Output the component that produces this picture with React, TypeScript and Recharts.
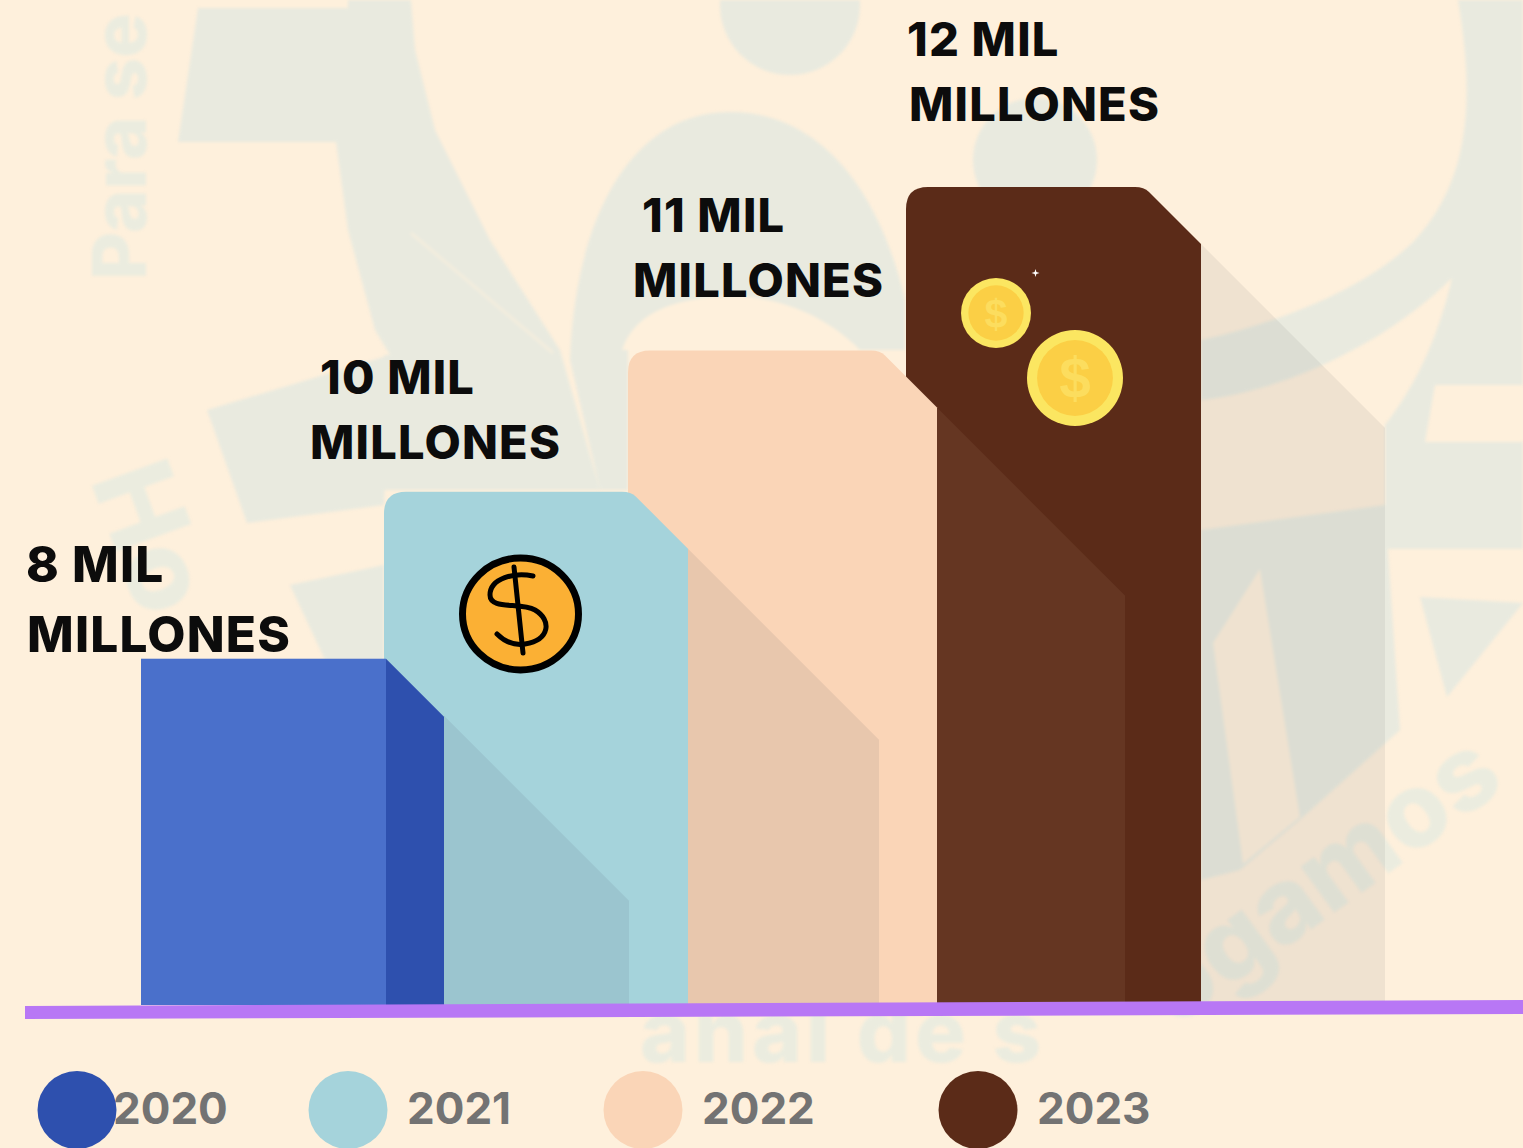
import { Bar, BarChart, LabelList, Legend, XAxis, YAxis } from 'recharts'

// years shown in the legend
const years = ['2020', '2021', '2022', '2023']
// the printed figures, in "mil millones"
const printedValues = [8, 10, 11, 12]
// the picture's bars are not to scale with the printed figures, so heights are read separately
const drawnHeights = [5.08, 7.53, 9.6, 12]

const data = years.map((year, i) => ({ year, height: drawnHeights[i], printed: printedValues[i] })).reverse()

const WIDTH = 1523
const HEIGHT = 1148
const FONT = 'Inter, sans-serif'

const frontColors = ['#4a70cb', '#a5d3db', '#fad5b7', '#5b2b18']
const legendColors = ['#2e50ae', '#a5d3db', '#fad5b7', '#5b2b18']
const shadowColors = ['#9bc5cf', '#e8c7ad', '#653622', 'rgba(120,120,120,0.11)']
const xNudge = [0, -1, -1, 33]
const bodyWidths = [303, 304, 309, 295]
const shadowWidths = [185, 191, 188, 184]
const cornerRadius = [0, 22, 22, 22]
const FOLD = 57

const labelPos = [
  { dx1: -115, dx2: -114, dy1: -77, dy2: -7, size: 49.5, gap: 1.2 },
  { dx1: -64, dx2: -74, dy1: -98, dy2: -33, size: 47, gap: 1.2 },
  { dx1: 14, dx2: 5, dy1: -119, dy2: -54, size: 47, gap: 1.2 },
  { dx1: 1, dx2: 3, dy1: -131, dy2: -66, size: 47, gap: 1.2 },
]
const legendPos = [
  { cx: 77, tx: 113 },
  { cx: 348, tx: 407 },
  { cx: 643, tx: 702 },
  { cx: 978, tx: 1037 },
]

function StepBar(props: any) {
  const { x, y, height, payload } = props
  const i = years.indexOf(payload.year)
  const left = x + xNudge[i]
  const right = left + bodyWidths[i]
  const bottom = y + height
  const r = cornerRadius[i]
  const sw = shadowWidths[i]
  const shadow = `M${right} ${y + FOLD} L${right + sw} ${y + FOLD + sw} L${right + sw} ${bottom} L${right} ${bottom} Z`
  if (i === 0) {
    const foldX = right - 58
    return (
      <g>
        <path d={shadow} fill={shadowColors[i]} />
        <rect x={left} y={y} width={foldX - left} height={height} fill={frontColors[i]} />
        <path d={`M${foldX} ${y} L${right} ${y + 58} L${right} ${bottom} L${foldX} ${bottom} Z`} fill={legendColors[i]} />
      </g>
    )
  }
  const body = `M${left} ${bottom} L${left} ${y + r} Q${left} ${y} ${left + r} ${y} L${right - FOLD - 9} ${y} Q${right - FOLD} ${y} ${right - FOLD + 5} ${y + 5} L${right} ${y + FOLD} L${right} ${bottom} Z`
  return (
    <g>
      <path d={shadow} fill={shadowColors[i]} />
      <path d={body} fill={frontColors[i]} />
    </g>
  )
}

function ValueLabel(props: any) {
  const { x, y, value } = props
  const i = printedValues.indexOf(value)
  const p = labelPos[i]
  const textStyle = { fontFamily: FONT, fontWeight: 800, fontSize: p.size, letterSpacing: p.gap, fill: '#0c0c0c' }
  return (
    <g>
      <text x={x + xNudge[i] + p.dx1} y={y + p.dy1} style={textStyle}>{`${value} MIL`}</text>
      <text x={x + xNudge[i] + p.dx2} y={y + p.dy2} style={textStyle}>MILLONES</text>
    </g>
  )
}

function YearLegend() {
  return (
    <div style={{ position: 'relative', height: 0 }}>
      <svg width={WIDTH} height={HEIGHT} style={{ position: 'absolute', left: 0, top: 0 }}>
        {years.map((year, i) => (
          <g key={year}>
            <text x={legendPos[i].tx} y={1124} style={{ fontFamily: FONT, fontWeight: 700, fontSize: 44, fill: '#737373' }}>
              {year}
            </text>
            <ellipse cx={legendPos[i].cx} cy={1110} rx={39.5} ry={39} fill={legendColors[i]} />
          </g>
        ))}
      </svg>
    </div>
  )
}

function Coin({ cx, cy, r }: { cx: number; cy: number; r: number }) {
  return (
    <g>
      <circle cx={cx} cy={cy} r={r} fill="#fbe661" />
      <circle cx={cx} cy={cy} r={r * 0.79} fill="#fbcf45" />
      <text
        x={cx}
        y={cy + r * 0.42}
        textAnchor="middle"
        style={{ fontFamily: 'Liberation Sans', fontWeight: 700, fontSize: r * 1.18, fill: '#fcdd5e' }}
      >
        $
      </text>
    </g>
  )
}

// faint logo printed behind the chart
function Watermark() {
  const ink = '#e9eadf'
  const wordStyle = { fontFamily: FONT, fontWeight: 800, fill: '#ebecdf' }
  return (
    <svg width={WIDTH} height={HEIGHT} style={{ position: 'absolute', left: 0, top: 0, filter: 'blur(1.5px)' }}>
      {/* upper-left block and the band running down from it */}
      <path d="M198 8 L348 8 L348 0 L411 0 L415 50 L435 130 L490 240 L560 350 L600 490 L384 490 L384 355 L390 355 L375 330 L348 230 L336 142 L178 142 Z" fill={ink} />
      <path d="M411 233 L553 353" stroke="#f3eddd" strokeWidth={3} fill="none" />
      <path d="M207 410 L390 355 L384 505 L247 523 Z" fill={ink} />
      <path d="M290 585 L384 565 L384 660 L325 660 Z" fill={ink} />
      {/* centre figure */}
      <circle cx={790} cy={5} r={70} fill={ink} />
      <path d="M570 360 C575 220 630 112 730 112 C820 112 880 190 905 300 L905 350 L628 350 L628 490 L600 490 Z" fill={ink} />
      <path d="M622 350 C635 310 680 296 740 296 C790 300 830 320 860 350 Z" fill="#fef0dc" />
      <circle cx={1035} cy={160} r={62} fill={ink} />
      {/* right-hand ring and blocks */}
      <path d="M1458 0 C1475 100 1470 180 1415 240 C1370 285 1290 320 1201 340 L1201 400 C1290 390 1390 340 1452 278 C1440 330 1420 380 1385 425 L1385 549 L1523 549 L1523 442 L1425 442 L1435 385 L1523 385 L1523 0 Z" fill={ink} />
      <path d="M1201 530 L1385 505 L1400 730 L1303 817 L1240 870 L1201 880 Z" fill={ink} />
      <path d="M1213 643 L1260 569 L1300 817 L1243 864 Z" fill="#fef0dc" />
      <path d="M1420 597 L1523 603 L1447 697 Z" fill={ink} />
      <text x={146} y={280} transform="rotate(-90 146 280)" style={{ ...wordStyle, fontSize: 74 }}>
        Para se
      </text>
      <text x={90} y={480} transform="rotate(70 90 480)" style={{ ...wordStyle, fontSize: 110 }}>
        Ho
      </text>
      <text x={1174} y={1029} transform="rotate(-36 1174 1029)" style={{ ...wordStyle, fontSize: 104 }}>
        ogamos
      </text>
      <text x={640} y={1062} style={{ ...wordStyle, fontSize: 85, letterSpacing: 4 }}>
        anal de s
      </text>
    </svg>
  )
}

// purple ground line and the coin stickers sit above the bars
function Overlay() {
  return (
    <svg width={WIDTH} height={HEIGHT} style={{ position: 'absolute', left: 0, top: 0, pointerEvents: 'none' }}>
      <polygon points="25,1006 1523,1000 1523,1014 25,1019" fill="#b877f5" />
      <ellipse cx={520.5} cy={614} rx={58} ry={56} fill="#fbb034" stroke="#000" strokeWidth={7} />
      <g fill="none" stroke="#000" strokeWidth={5} strokeLinecap="round">
        <path d="M514 567 L523 653" />
        <path d="M533 576 C515 572 490 578 490 595 C490 610 520 602 535 610 C552 620 550 640 525 644 C512 646 503 640 497 634" />
      </g>
      <Coin cx={996} cy={313} r={35} />
      <Coin cx={1075} cy={378} r={48} />
      <path d="M1035.5 269 L1036.4 272.1 L1039.5 273 L1036.4 273.9 L1035.5 277 L1034.6 273.9 L1031.5 273 L1034.6 272.1 Z" fill="#fff" />
    </svg>
  )
}

export default function App() {
  return (
    <div style={{ position: 'absolute', left: 0, top: 0, width: WIDTH, height: HEIGHT, background: '#fef0dc', overflow: 'hidden' }}>
      <Watermark />
      <div style={{ position: 'absolute', left: 0, top: 0 }}>
        <BarChart
          width={WIDTH}
          height={HEIGHT}
          data={data}
          barCategoryGap={0}
          margin={{ top: 187, right: 406, bottom: 143, left: 141 }}
        >
          <XAxis dataKey="year" reversed hide />
          <YAxis domain={[0, 12]} hide />
          <Legend content={<YearLegend />} wrapperStyle={{ position: 'absolute', left: 0, top: 0, width: WIDTH, height: 0 }} />
          <Bar dataKey="height" shape={<StepBar />} isAnimationActive={false}>
            <LabelList dataKey="printed" content={<ValueLabel />} />
          </Bar>
        </BarChart>
      </div>
      <Overlay />
    </div>
  )
}
